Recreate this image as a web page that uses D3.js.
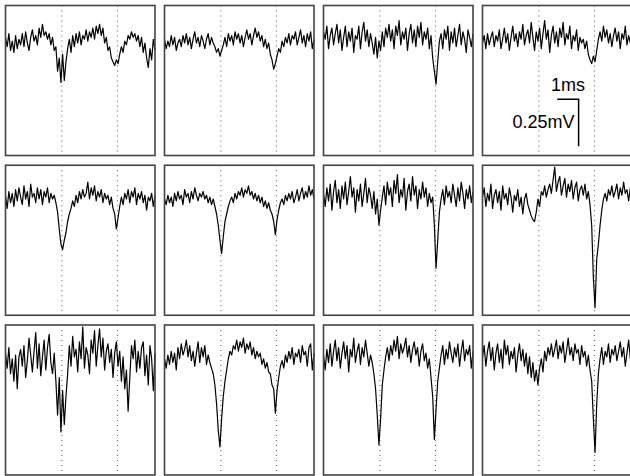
<!DOCTYPE html>
<html>
<head>
<meta charset="utf-8">
<script src="https://cdnjs.cloudflare.com/ajax/libs/d3/7.8.5/d3.min.js"></script>
<style>
  body { margin: 0; background: #fff; }
  svg { display: block; }
</style>
</head>
<body>
<div id="chart"></div>
<script>
// traces, in units of 0.01 mV, sampled over 0..7 ms (90 samples each)
var trace1 = [3,-2,5,-4,1,-5,4,-3,2,-1, 5,-2,6,0,-4,3,7,1,4,-1, 8,3,10,4,6,2,5,-1,3,-4,
  -2,-15,-8,-21,-6,-20,-10,-3,2,-5, 4,-2,5,0,6,-1,4,2,7,1, 6,3,8,2,9,5,10,4,8,0,
  3,-4,-2,-8,-10,-12,-9,-11,-6,-2, -5,1,-1,4,2,6,3,5,1,4, -2,3,-5,0,-8,-13,-3,-9,2,-4];
var trace2 = [2,-3,1,-2,4,-1,3,-4,0,2, -2,4,0,5,-1,3,-3,2,6,0, 3,-2,4,1,-3,2,5,-1,3,0,
  -2,-5,-3,-7,-4,-1,3,-2,5,1, 4,-1,6,2,5,0,4,-2,3,7, 2,5,-1,4,8,3,6,1,4,-2,
  2,-3,0,-6,-9,-14,-11,-7,-3,-5, 1,-2,3,0,5,-1,4,2,6,-1, 3,7,0,4,-2,5,1,6,-3,2];
var trace3 = [6,2,9,-3,4,8,-1,5,10,0, 7,-4,3,9,-2,6,1,8,-5,4, 2,9,-3,6,11,1,7,-2,5,0,
  -6,3,-8,1,-4,6,-2,8,3,10, 1,7,-3,9,4,12,-1,6,2,8, -4,5,10,0,7,-2,9,3,11,-1,
  6,2,8,-3,4,-8,-15,-22,-10,1, 5,-3,7,2,9,-4,6,0,8,-2, 4,10,-1,6,2,-5,7,3,-2,5];
var trace4 = [0,4,-3,5,-1,3,6,-2,4,1, 7,-3,2,8,0,5,-4,3,9,1, 5,-2,6,2,10,-1,4,7,0,11,
  3,-4,6,1,8,-3,5,12,2,7, -5,4,9,0,6,-2,8,3,11,-1, 5,2,9,-3,4,1,7,-4,3,0,
  2,-3,1,-6,-9,-11,-7,-10,-4,2, 6,1,9,3,7,0,5,-2,4,8, 1,6,-3,5,2,9,-1,4,0,3];
var trace5 = [4,-3,6,0,5,-2,7,1,8,3, -1,9,2,6,-2,10,3,5,0,8, 2,7,-1,6,3,8,0,5,2,4,
  0,-5,-14,-22,-25,-20,-16,-10,-6,-3, 1,-2,4,0,6,2,7,3,5,11, 2,8,4,9,1,6,3,7,0,5,
  2,4,-1,3,-3,-6,-14,-8,-2,3, -1,5,2,7,0,6,3,8,-1,5, 2,6,0,4,-4,3,1,5,-2,4];
var trace6 = [2,-1,4,0,3,-2,5,1,6,2, 4,-1,7,3,5,0,6,2,8,4, 1,5,3,6,2,4,0,3,-1,2,
  -2,-6,-12,-20,-27,-18,-10,-6,-2,1, 3,0,5,2,6,4,8,3,7,5, 9,4,6,2,5,1,4,0,3,-2,
  1,-3,0,-4,-6,-10,-17,-9,-4,0, 2,-1,4,1,5,2,6,0,3,7, 1,5,8,2,6,3,9,4,7,2];
var trace7 = [5,-2,8,1,10,-4,6,12,0,7, -3,9,2,11,-1,6,14,3,8,-5, 7,1,10,-2,5,13,0,8,4,-3,
  6,-6,2,-12,-4,3,9,-1,11,4, 8,-2,12,5,15,0,7,3,13,-4, 6,10,1,14,4,9,-3,7,2,11,
  3,8,-2,5,0,3,-12,-35,-20,-5, 2,7,-1,9,3,6,0,10,4,-2, 8,1,11,5,-3,7,2,9,0,6];
var trace8 = [3,8,-2,5,1,10,-3,4,7,0, 6,-4,9,2,5,-1,8,3,-5,4, 1,7,-2,3,-6,2,5,-1,-4,-7,
  -9,-10,-5,2,-2,6,4,9,3,7, 10,5,12,19,6,11,14,4,9,13, 3,10,6,12,2,8,11,1,7,9,
  4,10,2,6,-1,-12,-40,-56,-30,-22, -12,-4,2,5,1,7,4,9,3,6, 10,2,8,4,11,5,7,1,8,3];
var trace9 = [5,-3,8,-6,2,-10,4,-14,3,7, -2,9,-8,1,13,4,-5,6,16,-3, 10,-7,3,12,-4,8,15,0,-6,5,
  -10,-28,-8,-37,-15,-33,-18,-6,9,-2, 14,3,7,-5,11,2,19,-3,8,4, -6,12,5,17,-2,9,18,3,13,-4,
  6,10,0,7,-8,5,11,-2,6,-10, 3,-14,-4,-26,-8,9,2,12,-5,6, -3,8,11,-7,4,-12,9,2,-15,5];
var trace10 = [2,-3,4,-1,6,0,5,-4,8,2, 10,4,7,12,3,9,1,6,-2,5, 11,0,8,3,9,-1,4,0,-3,-6,
  -12,-22,-36,-45,-30,-18,-10,-4,2,6, 4,9,7,12,6,11,8,13,5,10, 7,11,4,8,2,6,3,5,-1,2,
  -3,0,-5,-6,-12,-14,-27,-15,-8,-2, 1,-3,4,0,6,2,8,-1,5,3, 7,0,9,4,6,-2,8,10,-4,5];
var trace11 = [4,-4,7,0,10,-2,6,12,1,8, -3,5,11,2,9,-5,7,3,13,0, 6,10,-1,8,3,12,5,-2,4,0,
  -6,-14,-28,-44,-30,-12,-4,3,8,1, 9,4,12,6,14,2,10,5,8,13, 3,9,0,7,11,4,8,-2,6,10,
  1,5,-3,2,-8,-18,-41,-25,-10,-3, 4,9,-1,7,2,11,5,0,8,3, 10,-2,6,12,1,7,4,9,-3,6];
var trace12 = [3,9,-2,6,11,1,8,-4,5,10, 0,7,-3,12,4,9,-1,6,2,8, -5,4,10,1,7,-2,5,-6,3,-8,
  0,-10,-4,-12,-3,2,-5,6,1,8, 4,10,3,7,12,2,9,5,11,0, 6,13,4,8,1,10,5,7,-1,9,
  3,6,-2,4,-4,-10,-30,-48,-22,-6, 2,8,-1,6,3,10,0,7,4,9, 1,6,11,3,8,-2,5,12,2,7];

var traces = [trace1, trace2, trace3, trace4, trace5, trace6,
              trace7, trace8, trace9, trace10, trace11, trace12];

// event markers (ms) and scale bar (ms, mV)
var markers = [2.64, 5.24];
var scaleBarTime = [3.5, 4.5];
var scaleBarVolt = [-0.3, -0.55];
var scaleLabels = ["1ms", "0.25mV"];

var width = 630, height = 476;
var ncols = 4;
var panelW = 149.5, panelH = 150;
var left0 = 5.5, top0 = 5.5, stepX = 159, stepY = 159.75;

var svg = d3.select("#chart").append("svg")
    .attr("width", width)
    .attr("height", height);

// time and voltage ranges shared by all panels
var x = d3.scaleLinear().domain([0, 7]).range([0, panelW]);
var y = d3.scaleLinear().domain([-0.6, 0.2]).range([panelH, 0]);

var line = d3.line()
    .x(function(d, i, arr) { return x(i * 7 / (arr.length - 1)); })
    .y(function(d) { return y(d / 100); });

var panels = svg.selectAll("g.panel")
    .data(traces)
  .enter().append("g")
    .attr("class", "panel")
    .attr("transform", function(d, i) {
      return "translate(" + (left0 + (i % ncols) * stepX) + "," +
        (top0 + Math.floor(i / ncols) * stepY) + ")";
    });

// dotted event lines
panels.selectAll("line.marker")
    .data(markers)
  .enter().append("line")
    .attr("class", "marker")
    .attr("x1", function(d) { return x(d); })
    .attr("x2", function(d) { return x(d); })
    .attr("y1", 0)
    .attr("y2", panelH)
    .attr("stroke", "#555")
    .attr("stroke-width", 1)
    .attr("stroke-dasharray", "1,4");

// the trace
panels.append("path")
    .attr("d", function(d) { return line(d); })
    .attr("fill", "none")
    .attr("stroke", "#000")
    .attr("stroke-width", 1.2)
    .attr("stroke-linejoin", "round");

// panel frame
panels.append("rect")
    .attr("x", 0)
    .attr("y", 0)
    .attr("width", panelW)
    .attr("height", panelH)
    .attr("fill", "none")
    .attr("stroke", "#444")
    .attr("stroke-width", 1.6);

// scale bar in the 4th panel
var bar = d3.select(panels.nodes()[3]);
bar.append("path")
    .attr("d", d3.line()([
      [x(scaleBarTime[0]), y(scaleBarVolt[0])],
      [x(scaleBarTime[1]), y(scaleBarVolt[0])],
      [x(scaleBarTime[1]), y(scaleBarVolt[1])]
    ]))
    .attr("fill", "none")
    .attr("stroke", "#000")
    .attr("stroke-width", 1.5);

bar.append("text")
    .attr("x", x((scaleBarTime[0] + scaleBarTime[1]) / 2))
    .attr("y", y(scaleBarVolt[0]) - 8)
    .attr("text-anchor", "middle")
    .attr("font-family", "Liberation Sans, Arial, sans-serif")
    .attr("font-size", 18)
    .text(scaleLabels[0]);

bar.append("text")
    .attr("x", x(scaleBarTime[1]) - 4)
    .attr("y", y(scaleBarVolt[0]) + 29)
    .attr("text-anchor", "end")
    .attr("font-family", "Liberation Sans, Arial, sans-serif")
    .attr("font-size", 18)
    .text(scaleLabels[1]);
</script>
</body>
</html>
